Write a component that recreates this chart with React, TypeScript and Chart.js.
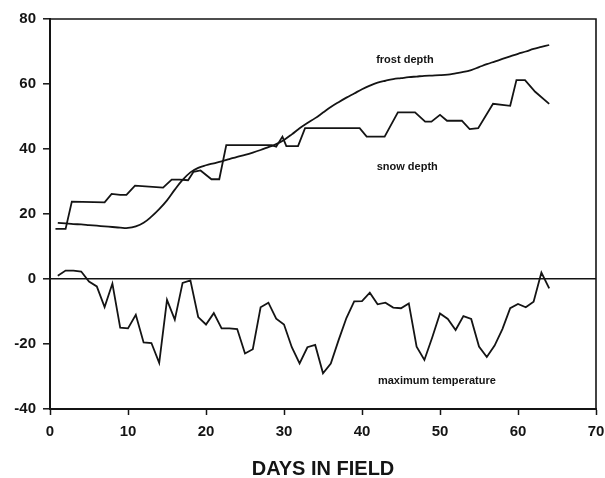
import React, { useEffect, useRef } from 'react';
import { Chart, registerables } from 'chart.js';

Chart.register(...registerables);

// ---- data ----
const days = [
  1, 2, 3, 4, 5, 6, 7, 8, 9, 10, 11, 12, 13, 14, 15, 16, 17, 18, 19, 20, 21, 22,
  23, 24, 25, 26, 27, 28, 29, 30, 31, 32, 33, 34, 35, 36, 37, 38, 39, 40, 41, 42,
  43, 44, 45, 46, 47, 48, 49, 50, 51, 52, 53, 54, 55, 56, 57, 58, 59, 60, 61, 62,
  63, 64,
];

const maxTemperature = [
  1, 2.6, 2.6, 2.3, -0.8, -2.3, -8.6, -1.4, -15, -15.2, -11, -19.5, -19.7, -25.8,
  -6.4, -12.5, -1.2, -0.4, -11.7, -14, -10.5, -15.2, -15.2, -15.4, -22.9, -21.6,
  -8.7, -7.3, -12.2, -14, -21, -26, -21, -20.3, -29, -26, -18.8, -12, -6.9, -6.8,
  -4.2, -7.8, -7.3, -8.8, -9, -7.5, -20.8, -24.9, -18, -10.6, -12.3, -15.7, -11.4,
  -12.3, -20.8, -24, -20.5, -15.4, -9, -7.7, -8.7, -7, 2, -2.9,
];

const frostDepth = [
  17.3, 17.1, 16.9, 16.8, 16.6, 16.4, 16.2, 16.0, 15.8, 15.7, 16.2, 17.3, 19.2,
  21.5, 24.2, 27.5, 30.5, 32.8, 34.2, 35.0, 35.6, 36.2, 36.9, 37.6, 38.2, 38.9,
  39.7, 40.6, 41.5, 42.8, 44.5, 46.4, 48.0, 49.5, 51.2, 52.9, 54.4, 55.8, 57.1,
  58.4, 59.5, 60.4, 61.0, 61.5, 61.8, 62.1, 62.3, 62.5, 62.6, 62.7, 62.9, 63.3,
  63.7, 64.3, 65.2, 66.1, 66.9, 67.7, 68.5, 69.3, 70.0, 70.8, 71.4, 72.0,
];

const snowDays = [
  0.7, 2, 2.8, 7, 7.9, 9, 9.8, 10.9, 14.5, 15.6, 16.6, 17.7, 18.4, 19.3, 20.7,
  21.7, 22.6, 28.4, 29, 29.8, 30.3, 31.8, 32.7, 39.7, 40.6, 42.9, 44.6, 46.8,
  48.1, 48.9, 50, 50.9, 52.8, 53.8, 54.9, 56.8, 59, 59.8, 60.9, 62.2, 64,
];
const snowDepth = [
  15.4, 15.4, 23.8, 23.6, 26.2, 25.9, 25.9, 28.7, 28.1, 30.6, 30.6, 30.4, 33,
  33.4, 30.7, 30.7, 41.2, 41.2, 40.7, 43.8, 40.9, 40.9, 46.4, 46.4, 43.8, 43.8,
  51.3, 51.3, 48.4, 48.4, 50.5, 48.7, 48.7, 46.1, 46.4, 53.9, 53.3, 61.2, 61.2,
  57.6, 53.9,
];

const seriesNames = ['frost depth', 'snow depth', 'maximum temperature'];
const nameDays = [45.5, 45.8, 49.6];
const nameValues = [67.4, 34.5, -31.4];

const xAxisTitle = 'DAYS IN FIELD';
const xMin = 0;
const xMax = 70;
const xStep = 10;
const yMin = -40;
const yMax = 80;
const yStep = 20;

const FONT = '"Liberation Sans", Arial, sans-serif';
const INK = '#141414';

const framePlugin = {
  id: 'frameAndNames',
  afterDatasetsDraw(chart: any) {
    const { ctx, chartArea, scales } = chart;
    ctx.save();
    ctx.strokeStyle = INK;
    ctx.lineWidth = 1.6;
    ctx.beginPath();
    ctx.moveTo(chartArea.left, chartArea.top);
    ctx.lineTo(chartArea.right, chartArea.top);
    ctx.lineTo(chartArea.right, chartArea.bottom);
    ctx.stroke();
    ctx.fillStyle = INK;
    ctx.font = `bold 11px ${FONT}`;
    ctx.textAlign = 'center';
    ctx.textBaseline = 'middle';
    seriesNames.forEach((name, i) => {
      const px = scales.x.getPixelForValue(nameDays[i]);
      const py = scales.y.getPixelForValue(nameValues[i]);
      ctx.fillText(name, px, py);
    });
    ctx.restore();
  },
};

export default function App() {
  const ref = useRef<HTMLCanvasElement | null>(null);

  useEffect(() => {
    if (!ref.current) return;
    const lineStyle = {
      borderColor: INK,
      borderWidth: 1.8,
      pointRadius: 0,
      fill: false,
      tension: 0,
    };
    const chart = new Chart(ref.current, {
      type: 'line',
      data: {
        datasets: [
          {
            label: seriesNames[0],
            data: days.map((d, i) => ({ x: d, y: frostDepth[i] })),
            ...lineStyle,
            tension: 0.4,
          },
          {
            label: seriesNames[1],
            data: snowDays.map((d, i) => ({ x: d, y: snowDepth[i] })),
            ...lineStyle,
          },
          {
            label: seriesNames[2],
            data: days.map((d, i) => ({ x: d, y: maxTemperature[i] })),
            ...lineStyle,
          },
        ],
      },
      options: {
        responsive: false,
        animation: false,
        devicePixelRatio: 1,
        layout: { padding: { left: 0, right: 9, top: 19, bottom: 0 } },
        plugins: {
          legend: { display: false },
          tooltip: { enabled: false },
          title: { display: false },
        },
        scales: {
          x: {
            type: 'linear',
            min: xMin,
            max: xMax,
            afterFit: (s: any) => {
              s.height = 69;
              s.paddingLeft = 0;
              s.paddingRight = 0;
            },
            ticks: {
              stepSize: xStep,
              color: INK,
              font: { family: FONT, size: 15, weight: 'bold' },
              padding: 8,
              maxRotation: 0,
            },
            grid: {
              drawOnChartArea: false,
              drawTicks: true,
              tickLength: 6,
              tickColor: INK,
              tickWidth: 1.5,
            },
            border: { color: INK, width: 2 },
            title: {
              display: true,
              text: xAxisTitle,
              color: INK,
              font: { family: FONT, size: 20, weight: 'bold' },
              padding: { top: 0, bottom: -3 },
            },
          },
          y: {
            type: 'linear',
            min: yMin,
            max: yMax,
            afterFit: (s: any) => {
              s.width = 50;
            },
            ticks: {
              stepSize: yStep,
              color: INK,
              font: { family: FONT, size: 15, weight: 'bold' },
              padding: 7,
            },
            grid: {
              drawTicks: true,
              tickLength: 7,
              tickColor: INK,
              tickWidth: 1.5,
              lineWidth: 1.6,
              color: (c: any) => (c.tick && c.tick.value === 0 ? INK : 'rgba(0,0,0,0)'),
            },
            border: { color: INK, width: 2 },
          },
        },
      },
      plugins: [framePlugin],
    });
    return () => chart.destroy();
  }, []);

  return (
    <div style={{ position: 'fixed', left: 0, top: 0, width: 605, height: 478, background: '#fff' }}>
      <canvas ref={ref} width={605} height={478} />
    </div>
  );
}
